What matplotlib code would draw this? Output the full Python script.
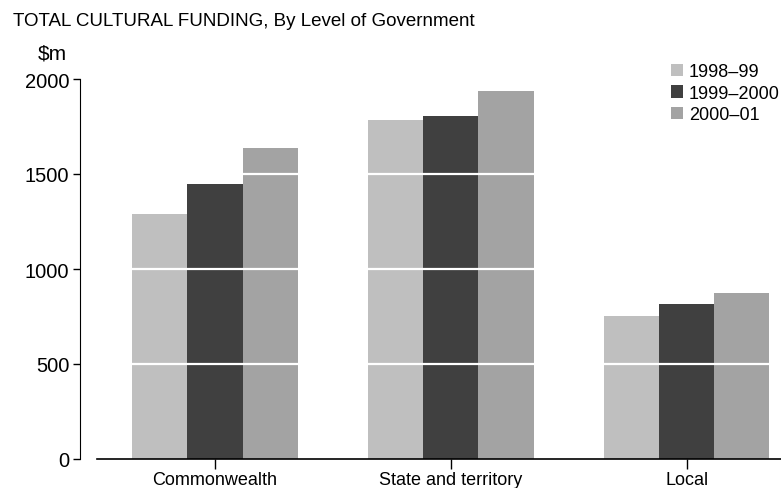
import matplotlib.pyplot as plt
import numpy as np

plt.rcParams['font.family'] = ['Liberation Sans', 'DejaVu Sans']

# values in $m
levels = ['Commonwealth', 'State and territory', 'Local']
years = ['1998\u201399', '1999\u20132000', '2000\u201301']
funding_9899 = [1289, 1784, 753]
funding_9900 = [1447, 1805, 816]
funding_0001 = [1637, 1937, 874]
yticks = [0, 500, 1000, 1500, 2000]

colors = ['#bfbfbf', '#404040', '#a3a3a3']

fig = plt.figure(figsize=(7.81, 4.89), dpi=100)
ax = fig.add_axes([97 / 781, 29 / 489, 1 - 97 / 781, 380 / 489])

x = np.arange(len(levels))
w = 0.234
series = [funding_9899, funding_9900, funding_0001]
for i, vals in enumerate(series):
    ax.bar(x + (i - 1) * w, vals, width=w, color=colors[i], label=years[i], zorder=1)

# white gridlines drawn over the bars
for v in yticks[1:-1]:
    ax.axhline(v, color='white', linewidth=1.6, zorder=2)

ax.set_xlim(-0.5, 2.40)
ax.set_ylim(0, 2000)
ax.set_yticks(yticks)
ax.set_xticks(x)
ax.set_xticklabels(levels, fontsize=13)
ax.tick_params(axis='y', labelsize=14.5, length=5, width=1, pad=3)
ax.tick_params(axis='x', length=7, width=1, pad=1.5)

ax.spines['top'].set_visible(False)
ax.spines['right'].set_visible(False)
ax.spines['left'].set_position(('outward', 12))
ax.spines['bottom'].set_linewidth(1.2)

handles, labels = ax.get_legend_handles_labels()
fig.legend(handles, labels, loc='upper left',
           bbox_to_anchor=(671 / 781, 1 - 64 / 489), frameon=False,
           fontsize=13, handlelength=0.67, handleheight=0.67,
           handletextpad=0.33, labelspacing=0.26, borderpad=0, borderaxespad=0)

fig.text(13 / 781, 1 - 22 / 489, 'TOTAL CULTURAL FUNDING, By Level of Government',
         fontsize=13.5, va='center', ha='left')
fig.text(52 / 781, 1 - 54 / 489, '$m', fontsize=15, va='center', ha='center')

fig.savefig('out.png', dpi=100)
